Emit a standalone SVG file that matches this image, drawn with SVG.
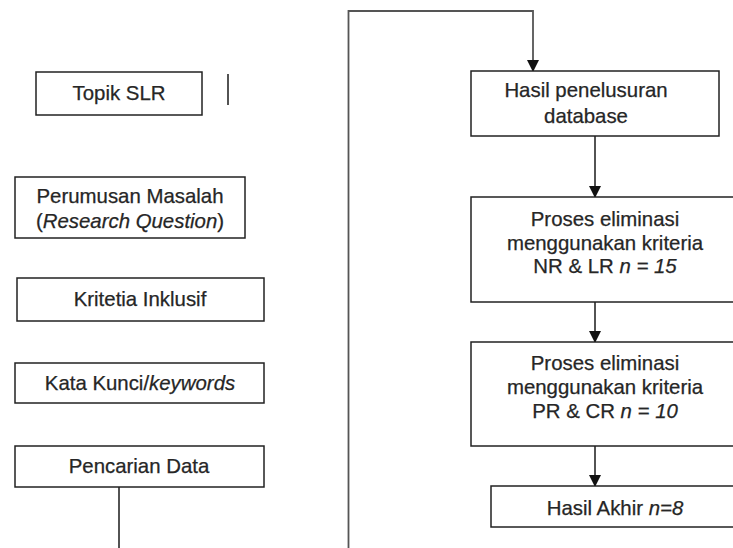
<svg xmlns="http://www.w3.org/2000/svg" width="733" height="548" viewBox="0 0 733 548">
<defs>
<marker id="arr" markerWidth="12" markerHeight="12" refX="11" refY="6" orient="auto" markerUnits="userSpaceOnUse">
<path d="M0,0 L12,6 L0,12 Z" fill="#111"/>
</marker>
<style>
.box{fill:#fff;stroke:#222;stroke-width:1.5}
.t{font-family:"Liberation Sans",Arial,sans-serif;font-size:20.4px;fill:#262626;stroke:#262626;stroke-width:0.25;text-anchor:middle}
.i{font-style:italic}
.c{fill:none;stroke:#1a1a1a;stroke-width:1.5}
.g{fill:none;stroke:#555;stroke-width:1.8}
</style>
</defs>
<rect width="733" height="548" fill="#fff"/>
<g id="connectors">
<path class="c" d="M119,487 V548"/>
<path class="g" d="M348.5,548 V11 H533 V71" marker-end="url(#arr)"/>
<path class="c" d="M595,136 V197" marker-end="url(#arr)"/>
<path class="c" d="M595,302 V342" marker-end="url(#arr)"/>
<path class="c" d="M595,446 V486" marker-end="url(#arr)"/>
<path class="c" d="M228,74 V105"/>
</g>
<g id="topik">
<rect class="box" x="36" y="72" width="166" height="43"/>
<text class="t" x="119" y="100">Topik SLR</text>
</g>
<g id="perumusan">
<rect class="box" x="15" y="177" width="230" height="61"/>
<text class="t" x="130" y="203">Perumusan Masalah</text>
<text class="t" x="130" y="228">(<tspan class="i">Research Question</tspan>)</text>
</g>
<g id="kriteria">
<rect class="box" x="17" y="278" width="247" height="43"/>
<text class="t" x="140" y="306">Kritetia Inklusif</text>
</g>
<g id="katakunci">
<rect class="box" x="15" y="363" width="249" height="40"/>
<text class="t" x="140" y="390">Kata Kunci/<tspan class="i">keywords</tspan></text>
</g>
<g id="pencarian">
<rect class="box" x="15" y="446" width="249" height="41"/>
<text class="t" x="139" y="473">Pencarian Data</text>
</g>
<g id="hasil">
<rect class="box" x="471" y="71" width="248" height="65"/>
<text class="t" x="586" y="97">Hasil penelusuran</text>
<text class="t" x="586" y="123">database</text>
</g>
<g id="proses1">
<rect class="box" x="471" y="197" width="268" height="105"/>
<text class="t" x="605" y="226">Proses eliminasi</text>
<text class="t" x="605" y="250">menggunakan kriteria</text>
<text class="t" x="605" y="273">NR &amp; LR <tspan class="i">n = 15</tspan></text>
</g>
<g id="proses2">
<rect class="box" x="471" y="342" width="268" height="104"/>
<text class="t" x="605" y="370">Proses eliminasi</text>
<text class="t" x="605" y="394">menggunakan kriteria</text>
<text class="t" x="605" y="418">PR &amp; CR <tspan class="i">n = 10</tspan></text>
</g>
<g id="hasilakhir">
<rect class="box" x="491" y="486" width="248" height="41"/>
<text class="t" x="615" y="515">Hasil Akhir <tspan class="i">n=8</tspan></text>
</g>
</svg>
